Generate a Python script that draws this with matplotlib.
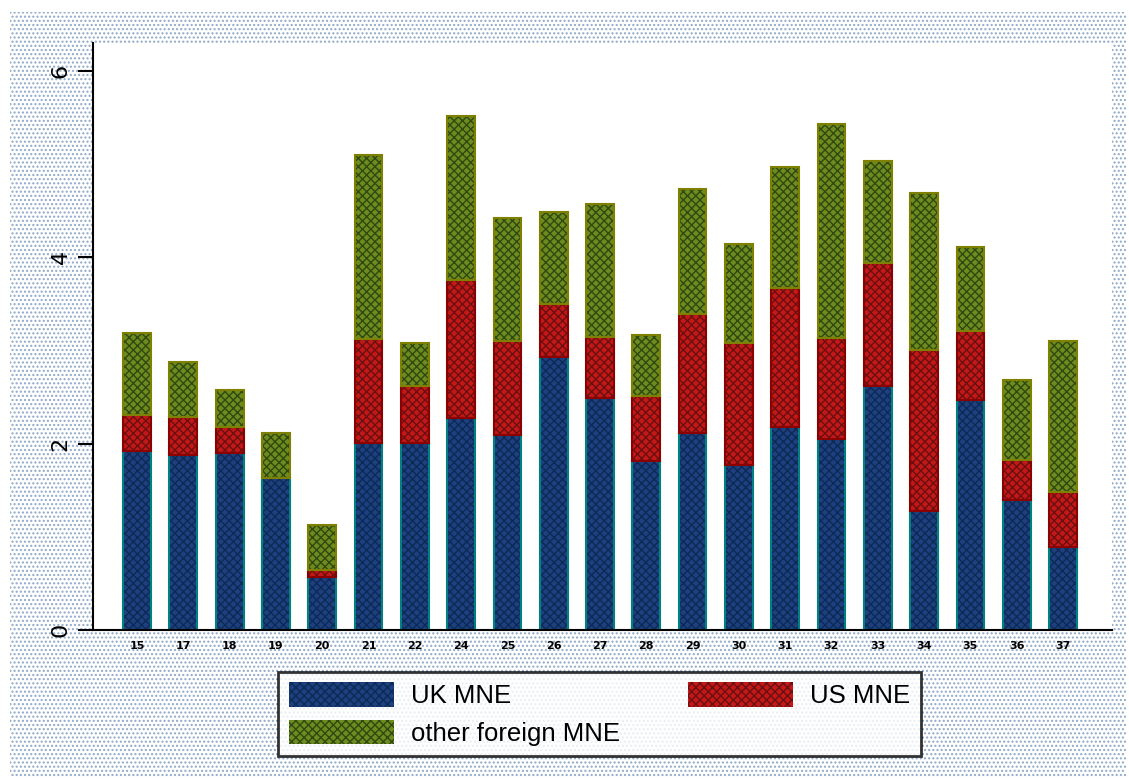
import numpy as np
import matplotlib.pyplot as plt
from matplotlib.patches import Rectangle

# industry codes on the x axis
industries = ['15', '17', '18', '19', '20', '21', '22', '24', '25', '26', '27',
              '28', '29', '30', '31', '32', '33', '34', '35', '36', '37']

# stacked shares
uk_mne = [1.92, 1.88, 1.90, 1.63, 0.57, 2.01, 2.01, 2.27, 2.09, 2.93, 2.49,
          1.81, 2.11, 1.77, 2.18, 2.05, 2.62, 1.28, 2.47, 1.39, 0.89]
us_mne = [0.39, 0.41, 0.28, 0.00, 0.07, 1.11, 0.61, 1.49, 1.01, 0.57, 0.65,
          0.70, 1.28, 1.31, 1.49, 1.08, 1.32, 1.73, 0.74, 0.43, 0.59]
other_mne = [0.88, 0.59, 0.40, 0.48, 0.49, 1.98, 0.46, 1.76, 1.32, 0.99, 1.43,
             0.66, 1.34, 1.06, 1.30, 2.30, 1.09, 1.68, 0.90, 0.86, 1.62]

x = np.arange(len(industries))
uk = np.array(uk_mne)
us = np.array(us_mne)
oth = np.array(other_mne)

fig = plt.figure(figsize=(11.29, 7.82), dpi=100)

# dotted background like the original export
bg = Rectangle((0.009, 0.005), 0.988, 0.98, transform=fig.transFigure,
               facecolor='white', edgecolor='#8fa8c8', hatch='....', lw=0, zorder=-10)
fig.patches.append(bg)

ax = fig.add_axes([0.0824, 0.1944, 0.9026, 0.7506])
ax.set_facecolor('white')

w = 0.6
styles = [
    (uk, np.zeros_like(uk), '#1f4080', '#0b2a55', '#008080', 'UK MNE'),
    (us, uk, '#c41818', '#6a1010', '#8b0000', 'US MNE'),
    (oth, uk + us, '#6f8a1e', '#2e4a10', '#808000', 'other foreign MNE'),
]
handles = {}
for vals, bottom, face, hatchc, edge, lab in styles:
    h = ax.bar(x, vals, w, bottom=bottom, color=face, edgecolor=hatchc,
               hatch='xxxx', linewidth=0, label=lab)
    ax.bar(x, vals, w, bottom=bottom, fill=False, edgecolor=edge, linewidth=1.5)
    handles[lab] = h

ax.set_xlim(-0.95, len(x) - 1 + 1.06)
ax.set_ylim(0, 6.3)
ax.set_yticks([0, 2, 4, 6])
ax.set_yticklabels(['0', '2', '4', '6'], rotation=90, va='center', fontsize=16)
ax.set_xticks(x)
ax.set_xticklabels(industries, fontsize=8, fontweight='bold')
ax.tick_params(axis='x', length=0, pad=8)
ax.tick_params(axis='y', length=11, width=1.5, pad=5)
ax.spines['top'].set_visible(False)
ax.spines['right'].set_visible(False)
ax.spines['left'].set_linewidth(1.5)
ax.spines['bottom'].set_linewidth(1.5)

leg = fig.legend([handles['UK MNE'], handles['other foreign MNE'], handles['US MNE']],
                 ['UK MNE', 'other foreign MNE', 'US MNE'],
                 loc='center', bbox_to_anchor=(0.531, 0.087), ncol=2,
                 prop={'family': 'Liberation Sans', 'size': 18.5},
                 handlelength=4.1, handleheight=1.09,
                 columnspacing=2.65, labelspacing=0.45, handletextpad=0.66,
                 frameon=True, fancybox=False, borderpad=0.4)
leg.get_frame().set_edgecolor('black')
leg.get_frame().set_linewidth(2)

plt.savefig('out.png', dpi=100)
